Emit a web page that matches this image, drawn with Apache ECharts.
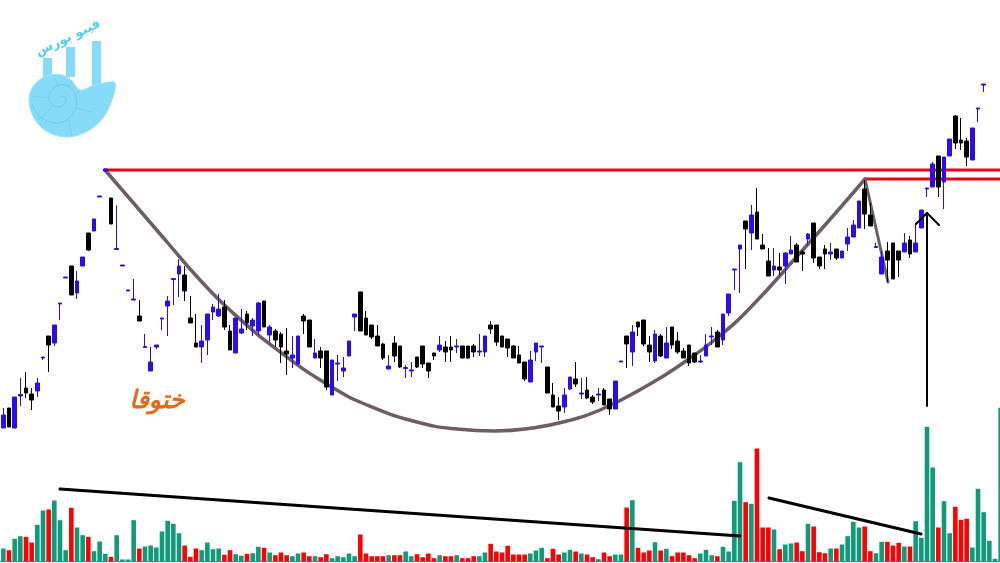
<!DOCTYPE html>
<html><head><meta charset="utf-8">
<style>html,body{margin:0;padding:0;background:#fff}#c{width:1000px;height:563px}</style>
<script src="https://cdn.jsdelivr.net/npm/echarts@6/dist/echarts.min.js"></script>
</head><body><div id="c"></div>
<script>
const opens = [135,155,135,167,175,169,172,205,227,220, 259,285,297,270,297,330,332,366,392,365, 313.5,297,272,263,247,215.5,192,216,244,257, 283.5,289,288,245,220,216,223,251,247,256, 232,210,230,249,237,232,262,228,232,229, 212,205,199,247,243,205,212,212,168,199, 192,207,246,271,245,238,227,219,194,220, 217,194.5,192,206,217,200,210,213,216,216, 216,217,217,217,211,211,238,238,227,224, 217,208,201,181,211,216,196,168,157,156, 174,184,169,173,166,168,173,164,154,201, 227,211,241,243,218,202,227,205,236,222, 212,218,210,201,207,226,231,223,250,293, 314,342,330,351,318,302,293,296,297,309, 318,311,324,340,306,314,309,314,305,319, 326,335,374,348,315.5,289,312,320,312,311, 323,311,335,374,376,407,381,407,447,423, 422,403,454,478];
const closes = [148,136,166,168.5,170,163,180,206,218,238, 260,286,268,282,306,313,344,367,394,339, 314.5,298,273,264,242,216.5,201,218,245,262, 284.5,297,272,240,216,222,249,256,254,236, 213,245,234,240,243,260,236,236,223,216, 209,208,227,242,216,210,205,176,203,200, 195,222,249,232,228,226,217,205,197,207, 196,195.5,193,196,199,192,207,218,211,213, 217,205,205,211,212,227,234,221,216,215, 205,200,184,203,220,217,170,156,152,168, 186,179,170,165,161,169,158,154,182,202, 219,231,236,219,211,229,207,220,218,211, 205,200,201,202,218,227,216,249,269,294, 318,334,348,324,314,287,297,293,310,313, 301,309,329,305,297,309,311,305,312,326, 338,362,349,337,316.5,306,303,284,303,320, 309,320,353,375,399,376,406,424,420,420, 406,435,455,479];
const lows = [135,136,135,157,165,153,166,203,191,217, 243,285,268,264,297,312,332,366,392,339, 313.5,297,272,263,242,215.5,192,214,233,227, 258,266,262,240,216,200,208,243,246,233, 213,210,229,233,227,228,236,221,216,200, 188,195,199,229,216,205,195,173,168,182, 186,207,232,232,228,224,217,203,194,201, 195,185,186,195,195,185,203,211,201,201, 210,205,204,206,207,206,229,217,216,206, 205,200,182,181,202,200,170,156,143,150, 173,176,164,164,159,162,158,148,154,201, 195,197,227,217,201,200,206,205,214,209, 205,197,200,200,207,218,216,218,247,273, 270,294,313,324,314,287,287,288,279,309, 301,292,318,300,294,294,303,303,305,312, 326,335,334,337,315.5,289,281,284,286,311, 305,311,335,366,376,366,354,407,414,413, 397,403,441,471];
const highs = [155,155,166,185,191,175,185,206,227,238, 260,286,297,292,306,330,344,367,394,365, 357.5,298,273,284,263,229,216,218,245,267, 284.5,304,297,267,249,238,249,259,269,263, 238,245,254,252,245,261,262,238,234,231, 235,227,227,249,243,224,216,212,203,208, 206,222,249,271,252,238,238,220,208,227, 217,198,201,206,217,200,210,227,222,227, 224,217,217,219,229,227,242,238,227,224, 218,217,201,212,220,217,196,180,166,175, 186,201,185,186,168,175,175,164,182,202, 227,238,241,243,227,233,229,236,236,231, 215,218,210,208,229,236,233,249,269,294, 318,342,358,375,329,315,315,310,311,327, 320,313,330,340,306,318,320,314,312,335, 343,362,383,360,320,312,321,320,312,330, 327,340,353,375,401,407,406,424,448,445, 425,435,455,479];
const volumes = [13,11.3,22.7,25.3,24.7,19,36.7,51,52,61, 41.3,11.3,53.7,34,26.3,24.7,10.3,20,7.7,4.7, 26.3,2,2,41.3,13,15,16,14,30,40.7, 37.7,28.3,16,4.7,13,11.3,19,12.3,13,6.7, 11.3,7.3,5.7,7.7,8.3,14.7,13.7,9,6.3,9, 6.3,5.3,8,9,5.3,5.3,4.3,7.3,3.3,5.3, 4.3,8,5.3,27,8,5.3,5.3,5.3,6.3,6.3, 6.3,10,5.3,7.3,4.3,8,3.3,6.3,5.3,5.3, 6.3,3.3,3.3,5.3,5.3,9,17.7,10,9,15.7, 7,7,7,8,11,13.7,3.3,12.7,7,9, 11.7,10,8,7,4.3,2.3,9,5.3,7,7, 54,61.3,13.7,9,11,19.3,11,12.7,5.3,9, 9,6.3,3.3,8,11.7,6.3,5.3,14.7,10,60.7, 99.3,59.3,57.7,113,34,34,32,12.3,17,18, 19,10.3,37.7,35,9.3,8.3,13,13,17,25.3, 39.7,34,35,10.3,8.3,19.7,19.7,16,18.7,15, 15,40.3,23.7,134.7,94,34,60.3,28.3,54.7,41.7, 42.7,14,72.7,49.3,20.7,2.7,153.7];
const volumeSides = [
 "g","r","g","g","r","r","g","g","r","g",
 "g","g","r","g","g","r","g","g","g","r",
 "g","g","g","g","r","g","g","g","g","g",
 "g","g","r","r","r","g","g","g","g","r",
 "r","g","g","r","g","g","r","g","r","r",
 "r","g","g","r","r","g","r","r","g","g",
 "g","g","g","r","r","r","r","r","g","r",
 "r","g","g","r","r","r","r","g","r","r",
 "g","r","r","r","g","g","r","r","r","r",
 "r","r","r","g","g","g","r","r","r","g",
 "g","r","g","r","r","g","r","r","g","g",
 "r","g","r","r","r","g","r","g","r","r",
 "r","r","r","g","g","g","r","g","g","g",
 "g","r","g","r","r","r","g","r","g","g",
 "r","r","g","r","r","r","g","r","g","g",
 "g","g","r","r","g","g","r","r","r","g",
 "r","g","g","g","g","r","g","g","r","r",
 "r","g","g","g","g","g","g"];
const categories = volumes.map((_, i) => String(i + 1));

// Annotations, in picture units (x across, y down).
const resistanceLong = [[105,170],[1000,170]];
const resistanceShort = [[865,179],[1000,179]];
const cupCurve = [[105,170],[167,242],[200,280],[233,313],[283,354],[330,386],[367,405],[417,422],[457,429],[495,431],[533,428],[567,421],[600,410],[650,384],[683,363],[717,338],[750,308],[800,253],[833,216],[865,179]];
const handle = [[865,179],[888,282]];
const arrowShaft = [[927,406],[927,213]];
const arrowHead = [[916,224],[927,213],[939,225]];
const volumeTrendLong = [[60,489],[740,536]];
const volumeTrendShort = [[769,498],[921,534]];
const patternLabel = "ختوقا";
const logoLabel = "فیبو بورس";

const candleRows = categories.map((_, i) => i < opens.length ? [opens[i], closes[i], lows[i], highs[i]] : '-');
const GREEN = '#0f9a7c', RED = '#ff0000', BLUE = '#2a0cf0', BLACK = '#000000';
const volumeRows = volumes.map((v, i) => ({ value: v, itemStyle: { color: volumeSides[i] === 'r' ? RED : GREEN } }));

function overlay(name, data, color, width, z, smooth) {
  return { name, type: 'line', xAxisIndex: 2, yAxisIndex: 2, data, symbol: 'none', smooth: smooth || false, clip: false, z,
    silent: true, animation: false, lineStyle: { color, width, cap: 'round', join: 'round' } };
}
const logoBlue = '#86dcf8';
const spiral = [[60,98],[64,96],[66,101],[62,106],[54,106],[49,98],[52,90],[60,85],[70,87],[76,97],[75,110],[65,121],[50,122],[38,115],[32,104]];
const ribs = [[[58,87],[54,75]],[[68,88],[72,80]],[[74,96],[80,90]],[[76,108],[92,112]],[[68,118],[72,136]],[[52,108],[38,120]],[[49,98],[30,96]]];
const logoShell = [[115,83],[112,100],[103,118],[88,131],[70,137],[52,134],[38,124],[30,108],[30,93],[38,81],[50,75],[62,75],[72,81],[80,90],[92,86],[104,83]];
const chart = echarts.init(document.getElementById('c'), null, { renderer: 'canvas' });
chart.setOption({
  backgroundColor: '#ffffff',
  animation: false,
  grid: [
    { left: 0.5, width: 1003, top: 0, height: 563, outerBoundsMode: 'none' },
    { left: 0.5, width: 1003, top: 401.5, height: 160, outerBoundsMode: 'none' },
    { left: 0, width: 1000, top: 0, height: 563, outerBoundsMode: 'none' }
  ],
  xAxis: [
    { type: 'category', gridIndex: 0, data: categories, show: false },
    { type: 'category', gridIndex: 1, data: categories, axisLabel: { show: false }, axisTick: { show: false },
      axisLine: { show: true, lineStyle: { color: '#5f8f85', width: 1 } } },
    { type: 'value', gridIndex: 2, min: 0, max: 1000, show: false }
  ],
  yAxis: [
    { type: 'value', gridIndex: 0, min: 0, max: 563, show: false },
    { type: 'value', gridIndex: 1, min: 0, max: 160, show: false },
    { type: 'value', gridIndex: 2, min: 0, max: 563, inverse: true, show: false }
  ],
  series: [
    overlay('resistance', resistanceLong, '#f00014', 3, 1),
    overlay('resistance2', resistanceShort, '#f00014', 3, 1),
    overlay('cup', cupCurve, '#6e5c66', 3.5, 1, 0.5),
    overlay('handle', handle, '#6e5c66', 3, 1),
    { name: 'price', type: 'candlestick', xAxisIndex: 0, yAxisIndex: 0, data: candleRows, barWidth: 4.4, z: 2,
      itemStyle: { color: BLUE, color0: BLACK, borderColor: BLUE, borderColor0: BLACK, borderWidth: 1 } },
    { name: 'volume', type: 'bar', xAxisIndex: 1, yAxisIndex: 1, data: volumeRows, barWidth: 4.6, z: 2 },
    overlay('arrowShaft', arrowShaft, '#000', 2, 3),
    overlay('arrowHead', arrowHead, '#000', 2, 3),
    overlay('volTrend1', volumeTrendLong, '#000', 3, 3),
    overlay('volTrend2', volumeTrendShort, '#000', 3, 3)
  ],
  graphic: [
    { type: 'rect', shape: { x: 43, y: 58, width: 9, height: 22 }, style: { fill: logoBlue }, z: 5 },
    { type: 'rect', shape: { x: 66, y: 47, width: 9, height: 30 }, style: { fill: logoBlue }, z: 5 },
    { type: 'rect', shape: { x: 92, y: 41, width: 9, height: 44 }, style: { fill: logoBlue }, z: 5 },
    { type: 'polygon', shape: { points: logoShell, smooth: 0.35 }, style: { fill: logoBlue, stroke: '#9fe3fa', lineWidth: 1 }, z: 6 },
    { type: 'polyline', shape: { points: spiral, smooth: 0.4 }, style: { fill: 'none', stroke: '#57b9dc', lineWidth: 0.6, opacity: 0.8 }, z: 7 },
    ...ribs.map(r => ({ type: 'polyline', shape: { points: r }, style: { fill: 'none', stroke: '#57b9dc', lineWidth: 0.5, opacity: 0.7 }, z: 7 })),
    { type: 'text', x: 68, y: 38, rotation: 0.44,
      style: { text: logoLabel, font: 'bold 13px "DejaVu Sans"', fill: '#55cfee', align: 'center', verticalAlign: 'middle' }, z: 8 },
    { type: 'text', x: 157, y: 401,
      style: { text: patternLabel, font: 'italic bold 25px "DejaVu Sans"', fill: '#e56a17', align: 'center', verticalAlign: 'middle' }, z: 8 }
  ]
});
</script></body></html>
